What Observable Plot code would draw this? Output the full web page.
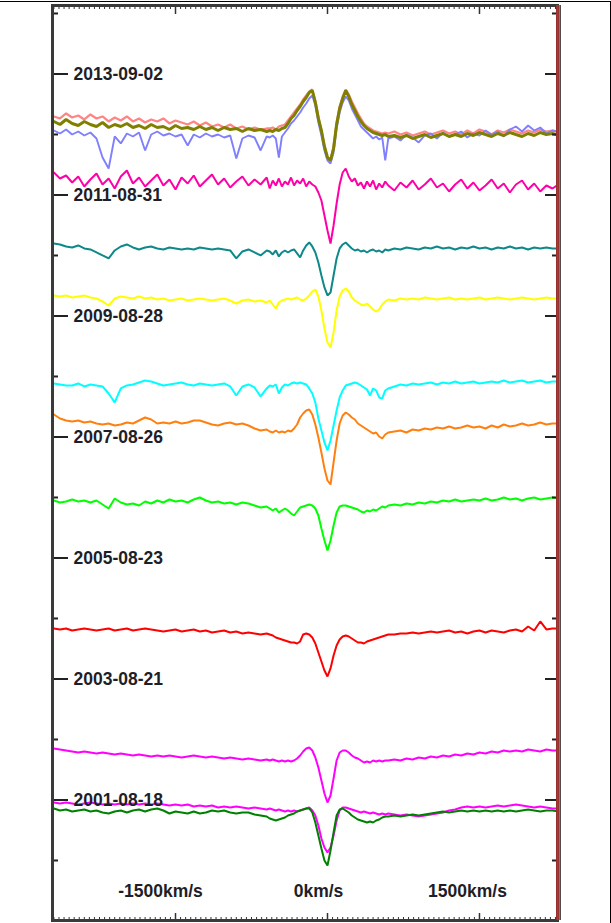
<!DOCTYPE html>
<html>
<head>
<meta charset="utf-8">
<script src="https://cdn.jsdelivr.net/npm/d3@7"></script>
<script src="https://cdn.jsdelivr.net/npm/@observablehq/plot@0.6"></script>
<style>
  html, body { margin: 0; padding: 0; background: #fff; }
  #wrap { position: relative; width: 611px; height: 923px; overflow: hidden; }
  #wrap svg { display: block; }
  .edge { position: absolute; background: #000; }
</style>
</head>
<body>
<div id="wrap">
  <div class="edge" style="left:0;top:1px;width:611px;height:1px"></div>
  <div class="edge" style="left:610px;top:1px;width:1px;height:922px"></div>
</div>
<script>
// ---- Axis definitions ----
const xDomain = [-2714, 2270];            // km/s
const yDomain = [0.008, 15.132];          // epoch ticks
const xMajorTicks = [-1500, 0, 1500];
const xTickLabels = ["-1500km/s", "0km/s", "1500km/s"];
const yAllTicks = [0, 1, 2, 3, 4, 5, 6, 7, 8, 9, 10, 11, 12, 13, 14, 15];
const yDateTicks = [2, 4, 6, 8, 10, 12, 14];
const yDateLabels = ["2001-08-18", "2003-08-21", "2005-08-23", "2007-08-26", "2009-08-28", "2011-08-31", "2013-09-02"];
const fluxScale = 1 / 60.5;               // epoch units per 1% of flux

// ---- Velocity grid (km/s) ----
const velocity = [
  -2700,-2640,-2580,-2520,-2460,-2400,-2340,-2280,-2220,-2160,-2100,-2040,-1980,-1920,-1860,-1800,-1740,-1680,-1620,-1560,-1500,-1440,-1380,-1320,-1260,-1200,-1140,-1080,-1020,-960,-900,-840,-780,-720,-660,-600,
  -570,-540,-510,-480,-450,-420,-390,-360,-330,-300,-270,-240,-210,-180,-150,-120,-90,-60,-30,0,30,60,90,120,150,180,210,240,270,300,330,360,390,420,450,480,510,540,570,
  600,660,720,780,840,900,960,1020,1080,1140,1200,1260,1320,1380,1440,1500,1560,1620,1680,1740,1800,1860,1920,1980,2040,2100,2160,2220,2280
];

// ---- Series (names, colours, stacking offsets) ----
const seriesNames = ["2013a", "2013b", "2013c", "2011", "2010", "2009", "2008", "2007", "2006", "2004", "2002", "2001a", "2001b"];
const seriesColors = ["#ff8484", "#7f7fff", "#808000", "#ff00a8", "#0e8888", "#ffff00", "#00ffff", "#ff8010", "#00ff00", "#ff0000", "#ff00ff", "#ff00ff", "#008000"];
const seriesWidths = [2.2, 1.9, 3, 2, 2, 2, 2, 2, 2, 2, 2, 2, 2];
const seriesOffsets = [13.149, 13.033, 13.099, 12.190, 11.116, 10.289, 8.868, 8.190, 6.917, 4.802, 2.719, 1.860, 1.810];

// ---- Normalised flux (% of continuum) ----
const flux2013a = [
  109,107,112,108,110,106,111,107,109,104,108,105,109,104,107,103,106,104,107,102,105,103,101,104,100,103,99,101,98,101,97,99,96,98,96,97,
  97,98,96,99,100,101,105,109,113,117,121,126,130,134,136,125,109,95,79,68,66,79,103,119,129,136,131,124,118,112,107,102,99,97,95,94,93,92,93,
  92,94,91,93,90,92,94,91,93,95,92,94,91,95,92,96,94,91,95,93,96,94,92,95,93,96,94,95,93
];
const flux2013b = [
  102,99,103,98,101,97,100,94,75,64,96,89,99,96,100,82,98,101,97,99,96,98,87,98,95,99,96,98,95,97,74,94,97,95,82,96,
  95,97,94,75,96,100,104,109,112,116,120,125,129,134,137,127,110,97,82,72,69,80,104,120,130,136,132,124,118,112,106,103,100,97,94,96,93,95,72,
  94,96,92,98,95,90,97,99,94,100,96,98,101,95,99,97,102,98,101,96,103,106,101,107,102,105,99,102,101
];
const flux2013c = [
  107,104,109,105,103,107,104,102,106,101,104,102,105,101,103,100,104,101,102,99,103,100,101,99,102,99,101,98,101,99,100,97,100,98,99,97,
  98,97,99,98,100,101,105,110,113,118,122,127,131,136,138,126,110,98,82,71,68,80,104,120,130,138,132,124,118,112,107,103,100,98,96,95,94,93,94,
  92,93,91,93,90,92,94,91,93,95,92,94,92,95,93,96,94,92,95,93,96,94,92,95,93,96,94,95,93
];
const flux2011 = [
  111,105,108,101,107,97,104,110,99,105,95,107,113,100,106,97,103,109,98,104,94,106,100,108,97,103,109,99,105,96,102,107,98,104,99,106,
  95,103,98,105,97,102,99,106,98,103,100,105,97,102,99,97,91,83,68,53,40,58,80,99,111,115,107,102,105,98,101,95,102,97,103,94,100,96,102,
  98,93,101,96,103,94,99,105,96,100,92,99,104,95,101,93,98,104,95,100,91,99,103,94,100,92,98,95,99
];
const flux2010 = [
  105,104,102,101,103,100,99,96,93,90,98,102,104,101,99,101,102,100,99,101,100,99,100,99,101,100,99,100,99,98,90,97,99,96,93,98,
  97,94,98,92,96,98,96,98,99,95,91,98,103,106,102,96,86,73,61,53,56,73,90,100,104,106,103,100,98,99,97,98,96,98,99,97,98,96,99,
  98,100,99,101,100,99,101,100,102,100,101,99,101,100,102,100,101,99,101,100,102,100,101,99,101,100,101,100,100
];
const flux2009 = [
  103,102,103,101,102,103,101,100,97,93,100,102,101,100,102,100,101,99,100,98,99,100,98,99,100,99,98,99,100,98,95,98,99,97,98,96,
  98,94,90,96,98,99,100,99,100,101,99,98,100,103,107,109,102,88,70,56,51,66,88,102,108,110,107,101,98,96,94,93,95,92,89,87,89,94,97,
  99,98,100,99,100,99,101,100,99,100,101,99,100,99,100,101,99,100,101,100,99,100,101,100,99,100,101,100,100
];
const flux2008 = [
  101,100,99,99,101,98,100,99,98,91,82,96,99,100,102,104,103,101,99,100,101,102,100,99,101,100,99,100,101,98,89,98,100,97,88,96,
  99,98,100,91,97,100,99,101,102,101,102,101,100,96,91,82,66,54,42,34,44,59,74,87,94,99,100,101,102,101,99,97,95,89,96,94,87,86,94,
  96,98,100,99,101,100,101,102,100,102,101,103,101,102,103,101,102,103,102,104,102,103,104,102,103,104,102,103,103
];
const flux2007 = [
  111,107,105,104,105,103,104,102,101,102,100,101,103,102,105,108,106,102,103,102,104,102,103,105,105,103,101,100,102,103,101,102,100,97,95,96,
  94,93,95,93,94,93,95,94,97,101,108,112,115,116,111,101,88,73,57,45,41,63,85,102,110,113,111,108,106,102,100,98,96,94,92,93,89,87,91,
  93,94,95,93,96,95,97,96,98,97,99,97,98,100,98,99,97,100,98,101,99,100,102,100,101,103,101,102,102
];
const flux2006 = [
  102,100,101,103,101,102,100,102,98,94,104,100,98,99,97,101,99,102,100,103,101,102,100,103,105,102,100,101,99,100,98,100,99,97,95,96,
  94,92,94,90,92,94,92,89,87,91,95,96,97,98,97,94,87,74,62,52,62,77,90,96,97,97,96,95,94,93,91,90,92,91,93,92,94,96,95,
  97,98,97,99,98,100,99,101,100,102,101,103,101,102,103,102,104,102,103,105,103,104,102,104,105,103,104,105,104
];
const flux2004 = [
  102,101,102,100,101,102,101,100,101,102,100,101,102,100,101,102,101,100,99,100,101,99,100,101,99,100,98,99,100,98,99,97,98,97,96,97,
  96,95,93,92,91,90,89,88,88,87,89,96,97,96,93,87,78,69,60,54,62,75,85,91,94,95,94,92,90,88,88,87,89,90,91,92,93,94,95,
  96,96,97,97,98,97,98,99,98,99,100,98,99,97,99,100,98,100,99,98,100,101,99,104,100,109,101,102,102
];
const flux2002 = [
  108,107,106,105,104,105,104,103,104,103,102,103,102,101,102,101,100,101,100,101,100,99,100,101,100,99,100,99,98,99,98,97,98,97,96,97,
  96,97,96,95,96,95,96,95,96,98,101,105,108,109,106,99,89,76,63,54,61,78,96,104,106,106,104,101,99,98,96,94,95,94,96,95,96,95,96,
  96,97,96,98,97,99,98,100,99,101,100,102,101,103,102,104,103,105,104,106,105,106,105,107,106,105,107,106,106
];
const flux2001a = [
  106,105,106,105,104,105,106,105,104,105,104,105,104,105,104,105,104,105,104,103,104,103,104,102,103,102,103,101,102,101,102,101,100,101,100,99,
  100,99,98,99,98,97,98,97,98,97,98,99,100,101,98,93,83,70,61,56,61,73,88,98,101,101,100,99,98,97,96,97,96,95,96,95,94,95,94,
  95,94,93,94,93,92,93,94,95,96,98,99,101,102,101,102,101,102,103,102,103,104,103,102,101,102,101,100,100
];
const flux2001b = [
  103,101,102,100,101,102,100,101,99,98,100,101,99,101,102,100,102,103,101,98,100,99,98,100,98,99,101,100,101,99,98,99,99,97,96,95,
  93,92,91,92,93,94,96,97,98,100,101,102,103,103,99,89,76,63,51,46,61,79,96,102,103,101,99,96,94,92,91,90,89,90,89,91,92,94,95,
  95,96,95,96,97,96,97,98,99,100,99,100,101,100,101,100,101,100,101,100,101,100,101,102,101,100,101,101,100
];
const seriesFlux = [flux2013a, flux2013b, flux2013c, flux2011, flux2010, flux2009, flux2008, flux2007, flux2006, flux2004, flux2002, flux2001a, flux2001b];

// ---- Build table ----
const spectra = seriesNames.map((name, s) =>
  velocity.map((v, i) => ({
    series: name,
    v,
    y: seriesOffsets[s] + (seriesFlux[s][i] - 100) * fluxScale
  })).filter(d => Number.isFinite(d.y))
);

const xMinorTicks = d3.range(-2700, 2271, 50);
const frameW = 505, frameH = 915;
const font = "'Liberation Sans', Arial, sans-serif";
const labelStyle = {fontSize: 17.5, fontWeight: "bold", fill: "#1e1e28"};

const lineMarks = spectra.map((rows, s) =>
  Plot.line(rows, {x: "v", y: "y", stroke: seriesColors[s], strokeWidth: seriesWidths[s], strokeLinejoin: "miter", clip: true})
);

const xLabelMarks = xMajorTicks.map((t, i) =>
  Plot.text([t], {
    x: d => d, text: () => xTickLabels[i], frameAnchor: "bottom",
    dy: -24, dx: [-15, -9, -12][i], ...labelStyle
  })
);

const chart = Plot.plot({
  width: 611,
  height: 923,
  marginLeft: 52,
  marginRight: 54,
  marginTop: 5,
  marginBottom: 3,
  x: {domain: xDomain, axis: null},
  y: {domain: yDomain, axis: null},
  style: {fontFamily: font, background: "transparent", overflow: "visible"},
  marks: [
    ...lineMarks,
    // y ticks, left and right
    Plot.tickY(yAllTicks, {y: d => d, stroke: "#222", strokeWidth: 2, insetRight: frameW - 6}),
    Plot.tickY(yDateTicks, {y: d => d, stroke: "#222", strokeWidth: 2, insetRight: frameW - 16}),
    Plot.tickY(yAllTicks, {y: d => d, stroke: "#222", strokeWidth: 2, insetLeft: frameW - 5}),
    Plot.tickY(yDateTicks, {y: d => d, stroke: "#222", strokeWidth: 2, insetLeft: frameW - 12}),
    // x ticks, top and bottom
    Plot.tickX(xMinorTicks, {x: d => d, stroke: "#333", strokeWidth: 1, insetBottom: frameH - 4}),
    Plot.tickX(xMinorTicks, {x: d => d, stroke: "#333", strokeWidth: 1, insetTop: frameH - 3}),
    Plot.tickX(xMajorTicks, {x: d => d, stroke: "#333", strokeWidth: 1.5, insetBottom: frameH - 9}),
    Plot.tickX(xMajorTicks, {x: d => d, stroke: "#333", strokeWidth: 1.5, insetTop: frameH - 7}),
    // frame
    Plot.frame({stroke: "#3a3a3a", strokeWidth: 3}),
    Plot.ruleX([xDomain[1]], {stroke: "#000", strokeWidth: 1.2, dx: 2.6}),
    Plot.ruleX([xDomain[1]], {stroke: "#c0302a", strokeWidth: 2.4}),
    // labels
    Plot.text(yDateTicks, {
      y: d => d, text: (d, i) => yDateLabels[i], frameAnchor: "left", textAnchor: "start",
      dx: 21, ...labelStyle
    }),
    ...xLabelMarks
  ]
});

chart.style.position = "absolute";
chart.style.left = "0px";
chart.style.top = "0px";
document.getElementById("wrap").prepend(chart);
</script>
</body>
</html>
